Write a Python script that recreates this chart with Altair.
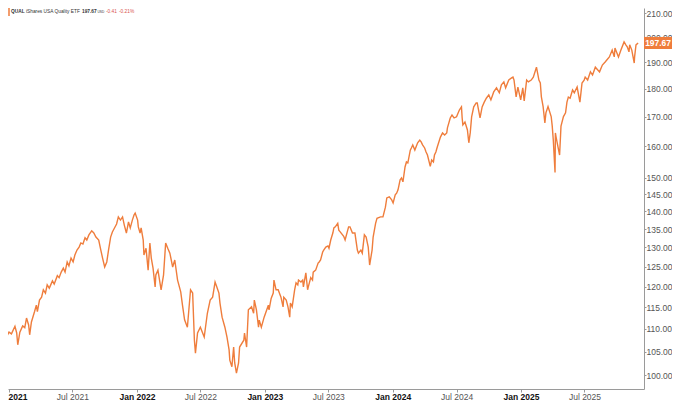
import altair as alt
import pandas as pd

# ---------------- data ----------------
dates = [
    "2020-12-07", "2020-12-15", "2020-12-23", "2021-01-01", "2021-01-08", "2021-01-18", "2021-01-23",
    "2021-01-26", "2021-02-01", "2021-02-09", "2021-02-15", "2021-02-20", "2021-02-26", "2021-03-01",
    "2021-03-06", "2021-03-15", "2021-03-20", "2021-03-23", "2021-03-29", "2021-04-04", "2021-04-09",
    "2021-04-15", "2021-04-20", "2021-04-26", "2021-05-05", "2021-05-10", "2021-05-19", "2021-05-24",
    "2021-05-30", "2021-06-05", "2021-06-10", "2021-06-16", "2021-06-21", "2021-06-27", "2021-07-03",
    "2021-07-08", "2021-07-14", "2021-07-20", "2021-07-25", "2021-07-31", "2021-08-06", "2021-08-11",
    "2021-08-17", "2021-08-25", "2021-08-31", "2021-09-06", "2021-09-14", "2021-09-20", "2021-09-25",
    "2021-10-01", "2021-10-07", "2021-10-12", "2021-10-18", "2021-10-23", "2021-10-29", "2021-11-04",
    "2021-11-09", "2021-11-15", "2021-11-21", "2021-11-26", "2021-12-02", "2021-12-08", "2021-12-13",
    "2021-12-19", "2021-12-24", "2021-12-27",
    "2022-01-03", "2022-01-05", "2022-01-10", "2022-01-13", "2022-01-19", "2022-01-21", "2022-01-27",
    "2022-02-02", "2022-02-07", "2022-02-11", "2022-02-16", "2022-02-22", "2022-02-24", "2022-03-02",
    "2022-03-11", "2022-03-18", "2022-03-24", "2022-03-30", "2022-04-05", "2022-04-13", "2022-04-19",
    "2022-04-27", "2022-05-06", "2022-05-11", "2022-05-17", "2022-05-25", "2022-06-03", "2022-06-09",
    "2022-06-14", "2022-06-17", "2022-06-23", "2022-07-01", "2022-07-12", "2022-07-21", "2022-07-29",
    "2022-08-05", "2022-08-12", "2022-08-17", "2022-08-23", "2022-08-26", "2022-09-01", "2022-09-09",
    "2022-09-15", "2022-09-21", "2022-09-23", "2022-09-29", "2022-10-04", "2022-10-07", "2022-10-12",
    "2022-10-18", "2022-10-21", "2022-11-02", "2022-11-04", "2022-11-10", "2022-11-15", "2022-11-24",
    "2022-11-30", "2022-12-02", "2022-12-08", "2022-12-14", "2022-12-16", "2022-12-22", "2022-12-30",
    "2023-01-11", "2023-01-13", "2023-01-19", "2023-01-25", "2023-01-27", "2023-02-02", "2023-02-08",
    "2023-02-16", "2023-02-22", "2023-02-24", "2023-03-03", "2023-03-08", "2023-03-13", "2023-03-15",
    "2023-03-20", "2023-03-27", "2023-03-31", "2023-04-05", "2023-04-07", "2023-04-14", "2023-04-19",
    "2023-04-21", "2023-04-28", "2023-05-03", "2023-05-05", "2023-05-12", "2023-05-17", "2023-05-19",
    "2023-05-26", "2023-06-02", "2023-06-05", "2023-06-09", "2023-06-15", "2023-06-18", "2023-06-24",
    "2023-06-30", "2023-07-03", "2023-07-08", "2023-07-14", "2023-07-17", "2023-07-21", "2023-07-28",
    "2023-07-31", "2023-08-04", "2023-08-14", "2023-08-18", "2023-08-28", "2023-09-01", "2023-09-08",
    "2023-09-15", "2023-09-22", "2023-09-25", "2023-10-02", "2023-10-06", "2023-10-12", "2023-10-17",
    "2023-10-23", "2023-10-27", "2023-11-03", "2023-11-06", "2023-11-13", "2023-11-17", "2023-11-27",
    "2023-12-04", "2023-12-11", "2023-12-15", "2023-12-22", "2023-12-29",
    "2024-01-02", "2024-01-08", "2024-01-12", "2024-01-16", "2024-01-22", "2024-01-26", "2024-01-30",
    "2024-02-05", "2024-02-09", "2024-02-13", "2024-02-20", "2024-02-23", "2024-02-27", "2024-03-04",
    "2024-03-12", "2024-03-18", "2024-03-22", "2024-03-26", "2024-04-01", "2024-04-05", "2024-04-09",
    "2024-04-17", "2024-04-21", "2024-04-26", "2024-04-29", "2024-05-03", "2024-05-07", "2024-05-16",
    "2024-05-22", "2024-05-28", "2024-06-03", "2024-06-05", "2024-06-13", "2024-06-18", "2024-06-24",
    "2024-07-01", "2024-07-09", "2024-07-15", "2024-07-17", "2024-07-19", "2024-07-25", "2024-08-01",
    "2024-08-05", "2024-08-09", "2024-08-13", "2024-08-19", "2024-08-26", "2024-08-29", "2024-09-06",
    "2024-09-12", "2024-09-18", "2024-09-24", "2024-10-01", "2024-10-07", "2024-10-15", "2024-10-23",
    "2024-10-31", "2024-11-06", "2024-11-13", "2024-11-18", "2024-11-27", "2024-12-05", "2024-12-09",
    "2024-12-12", "2024-12-18", "2024-12-23", "2024-12-31",
    "2025-01-06", "2025-01-10", "2025-01-17", "2025-01-22", "2025-01-30", "2025-02-05", "2025-02-14",
    "2025-02-21", "2025-02-25", "2025-02-28", "2025-03-05", "2025-03-10", "2025-03-13", "2025-03-19",
    "2025-03-28", "2025-03-31", "2025-04-03", "2025-04-08", "2025-04-09", "2025-04-11", "2025-04-21",
    "2025-04-25", "2025-05-02", "2025-05-08", "2025-05-12", "2025-05-16", "2025-05-21", "2025-05-28",
    "2025-06-02", "2025-06-10", "2025-06-18", "2025-06-24", "2025-06-30", "2025-07-03", "2025-07-10",
    "2025-07-18", "2025-07-24", "2025-08-01", "2025-08-13", "2025-08-21", "2025-08-29", "2025-09-10",
    "2025-09-18", "2025-09-24", "2025-09-26", "2025-10-06", "2025-10-13", "2025-10-22", "2025-10-27",
    "2025-10-31", "2025-11-05", "2025-11-07", "2025-11-13", "2025-11-20", "2025-11-21", "2025-11-25",
    "2025-12-01",
]

prices = [
    107.3, 108.4, 108.0, 109.3, 108.9, 110.6, 109.1,
    106.5, 109.3, 110.7, 110.3, 112.5, 110.9, 108.7,
    111.6, 114.0, 115.5, 114.0, 116.7, 117.4, 119.2,
    118.4, 120.4, 119.6, 121.4, 120.6, 122.7, 122.2,
    123.6, 124.6, 123.6, 126.2, 125.2, 127.2, 126.2,
    128.0, 129.3, 130.1, 131.2, 130.9, 132.6, 132.0,
    133.4, 134.5, 133.9, 132.8, 132.0, 129.3, 127.2,
    124.9, 126.2, 129.3, 132.8, 134.2, 135.3, 136.4,
    138.4, 137.5, 138.4, 136.1, 133.9, 137.0, 135.3,
    137.5, 139.0, 139.5,
    137.5, 135.6, 133.9, 135.3, 132.0, 128.0, 129.8,
    124.1, 131.2, 127.2, 124.6, 119.9, 122.9, 124.1,
    119.2, 122.9, 131.2, 129.8, 128.5, 124.9, 126.7,
    121.6, 118.7, 115.5, 112.1, 110.4, 119.2, 118.4,
    107.5, 104.7, 109.1, 110.4, 108.2, 113.6, 116.7,
    117.4, 121.1, 119.9, 118.4, 116.0, 112.7, 110.4,
    108.2, 105.4, 103.2, 101.8, 106.0, 102.6, 100.5,
    102.6, 106.0, 107.5, 109.1, 106.0, 114.4, 115.1,
    113.6, 116.7, 114.4, 110.4, 112.0, 110.4, 112.7,
    115.5, 114.4, 117.1, 118.4, 121.6, 119.2, 119.2,
    117.4, 115.1, 117.4, 116.7, 115.1, 112.7, 116.0,
    115.1, 119.2, 120.9, 120.4, 121.6, 121.1, 121.6,
    119.9, 123.4, 119.2, 119.9, 122.2, 121.6, 123.6,
    124.1, 125.9, 126.2, 126.7, 128.8, 129.3, 130.1,
    130.4, 129.8, 132.0, 133.9, 135.3, 135.6, 136.6,
    134.7, 134.2, 133.0, 132.0, 135.6, 135.6, 133.9,
    133.9, 129.3, 128.5, 129.3, 128.5, 133.4, 132.8,
    130.1, 125.4, 129.3, 132.8, 136.6, 138.0, 138.4,
    138.4, 141.2, 143.9, 144.2, 143.3,
    142.4, 144.8, 145.3, 146.3, 149.3, 149.9, 148.7,
    153.3, 154.9, 154.6, 158.7, 159.4, 160.4, 158.7,
    161.1, 162.0, 161.4, 160.4, 159.4, 158.1, 157.1,
    153.5, 155.5, 154.9, 157.1, 158.1, 159.7, 163.0,
    164.4, 163.7, 164.4, 166.1, 169.5, 170.5, 169.5,
    169.9, 172.3, 173.4, 169.5, 167.1, 168.1, 165.4,
    161.1, 164.4, 169.9, 173.4, 174.8, 174.8, 169.5,
    173.4, 175.1, 176.5, 177.7, 175.9, 178.8, 180.3,
    178.5, 181.4, 182.5, 180.3, 183.2, 184.0, 184.3,
    183.2, 177.0, 180.6, 175.9,
    180.3, 175.5, 183.2, 182.5, 183.2, 184.3, 188.1,
    183.2, 182.1, 177.0, 173.5, 167.8, 171.3, 173.5,
    170.0, 166.7, 162.0, 151.6, 164.4, 163.0, 157.1,
    166.7, 170.0, 171.3, 175.1, 176.9, 176.5, 179.5,
    178.5, 180.6, 175.1, 182.1, 183.2, 184.3, 183.2,
    186.3, 185.1, 188.1, 186.3, 188.9, 190.1, 192.1,
    194.8, 192.1, 195.6, 192.1, 194.8, 198.1, 196.9,
    196.1, 194.1, 196.9, 194.8, 189.7, 192.1, 196.9,
    197.67,
]

y_tick_values = [100, 105, 110, 115, 120, 125, 130, 135, 140, 145, 150, 160, 170, 180, 190, 200, 210]
x_tick_months = [(2021, 1), (2021, 7), (2022, 1), (2022, 7), (2023, 1), (2023, 7),
                 (2024, 1), (2024, 7), (2025, 1), (2025, 7)]

ticker = "QUAL"
fund_name = "iShares USA Quality ETF"
last_text = "197.67"
currency = "USD"
change_abs = "-0.41"
change_pct = "-0.21%"

# ---------------- styling ----------------
ORANGE = "#EF7D3C"
FONT = "Liberation Sans"
AXIS_GREY = "#9a9a9a"
PLOT_W = 636
PLOT_H = 381
TAG_W = 28

df = pd.DataFrame({"date": dates, "price": prices})
last_df = df.tail(1)

x_scale = alt.Scale(
    type="utc",
    domain=[alt.DateTime(year=2020, month=12, date=29, hours=4, utc=True),
            alt.DateTime(year=2025, month=12, date=17, hours=20, utc=True)],
)
y_scale = alt.Scale(type="log", domain=[97.27, 212.35])

x_axis = alt.Axis(
    values=[alt.DateTime(year=y, month=m, date=1, utc=True) for (y, m) in x_tick_months],
    labelExpr="utcFormat(datum.value, '%b %Y')",
    labelFontWeight={"condition": {"test": "utcmonth(datum.value) === 0", "value": "bold"}, "value": "normal"},
    labelColor={"condition": {"test": "utcmonth(datum.value) === 0", "value": "#111111"}, "value": "#555555"},
    labelFontSize=8.5,
    labelFont=FONT,
    labelPadding=0,
    labelFlush=False,
    labelOverlap=False,
    tickSize=3,
    tickColor=AXIS_GREY,
    domainColor=AXIS_GREY,
    grid=False,
    title=None,
)

y_axis = alt.Axis(
    orient="right",
    values=y_tick_values,
    format=".2f",
    labelFontSize=8.5,
    labelFont=FONT,
    labelColor="#555555",
    labelPadding=0,
    tickSize=2,
    tickColor=AXIS_GREY,
    domainColor=AXIS_GREY,
    grid=False,
    title=None,
)

line = alt.Chart(df).mark_line(color=ORANGE, strokeWidth=1.4, clip=True).encode(
    x=alt.X("date:T", scale=x_scale, axis=x_axis),
    y=alt.Y("price:Q", scale=y_scale, axis=y_axis),
)

tag_box = alt.Chart(last_df).mark_point(
    shape="M-1,-0.43L1,-0.43L1,0.43L-1,0.43Z",
    size=TAG_W * TAG_W, filled=True, color=ORANGE, opacity=1, strokeWidth=0, clip=False,
).encode(x=alt.value(PLOT_W + TAG_W / 2), y=alt.Y("price:Q", scale=y_scale))

tag_text = alt.Chart(last_df).mark_text(
    color="white", font=FONT, fontSize=8.4, fontWeight="bold", align="center", baseline="middle", clip=False,
).encode(x=alt.value(PLOT_W + TAG_W / 2), y=alt.Y("price:Q", scale=y_scale),
         text=alt.Text("price:Q", format=".2f"))


def header_text(s, xpos, color="#333333", size=4.8, weight="normal"):
    return alt.Chart(pd.DataFrame({"t": [s]})).mark_text(
        color=color, font=FONT, fontSize=size, fontWeight=weight, align="left", baseline="middle",
    ).encode(x=alt.value(xpos), y=alt.value(4), text="t:N")


header_bar = alt.Chart(pd.DataFrame({"t": [ticker]})).mark_rule(color=ORANGE, strokeWidth=1.5).encode(
    x=alt.value(1), y=alt.value(0), y2=alt.value(8)
)

header = [
    header_bar,
    header_text(ticker, 3, weight="bold"),
    header_text(fund_name, 18),
    header_text(last_text, 74, weight="bold"),
    header_text(currency, 89.5, size=3.2),
    header_text(change_abs, 98, color="#d9534f"),
    header_text(change_pct, 111, color="#d9534f"),
]

chart = alt.layer(line, tag_box, tag_text, *header).properties(
    width=PLOT_W,
    height=PLOT_H,
    autosize=alt.AutoSizeParams(type="none"),
    padding={"left": 0, "top": 0, "right": 664 - PLOT_W, "bottom": 11},
    background="white",
).configure_view(stroke=None)

chart.save("out.html", embed_options={"renderer": "svg", "actions": False})
